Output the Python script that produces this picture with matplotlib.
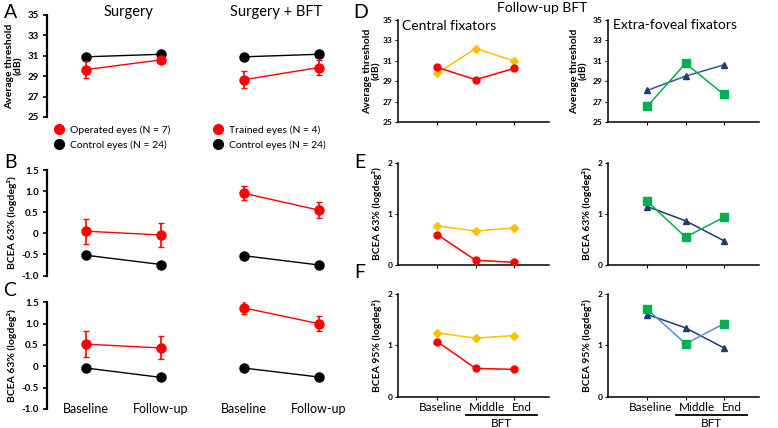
import matplotlib
matplotlib.use('Agg')
import matplotlib.pyplot as plt
import matplotlib.transforms as mtransforms
from matplotlib.lines import Line2D

plt.rcParams['font.family'] = ['Lato', 'DejaVu Sans']

# ---- values ----
visits = ['Baseline', 'Follow-up']
bft_visits = ['Baseline', 'Middle', 'End']

# A - average threshold (dB)
thr_surg_operated = [29.65, 30.6]
thr_surg_operated_err = [0.8, 0.2]
thr_surg_control = [30.9, 31.15]
thr_bft_trained = [28.65, 29.85]
thr_bft_trained_err = [0.85, 0.75]
thr_bft_control = [30.9, 31.15]

# B - BCEA 63%
b63_surg_operated = [0.05, -0.04]
b63_surg_operated_err = [0.3, 0.28]
b63_surg_control = [-0.52, -0.74]
b63_bft_trained = [0.95, 0.55]
b63_bft_trained_err = [0.16, 0.19]
b63_bft_control = [-0.53, -0.75]

# C - BCEA (second measure)
c_surg_operated = [0.52, 0.43]
c_surg_operated_err = [0.3, 0.27]
c_surg_control = [-0.04, -0.26]
c_bft_trained = [1.37, 1.0]
c_bft_trained_err = [0.15, 0.18]
c_bft_control = [-0.04, -0.25]

# D-F - follow-up BFT, central fixators (red, yellow) / extra-foveal (navy, green)
d_central_red = [30.35, 29.15, 30.25]
d_central_yellow = [29.8, 32.2, 31.0]
d_extra_navy = [28.1, 29.5, 30.6]
d_extra_green = [26.55, 30.75, 27.7]

e_central_red = [0.59, 0.085, 0.045]
e_central_yellow = [0.76, 0.66, 0.72]
e_extra_navy = [1.14, 0.86, 0.47]
e_extra_green = [1.24, 0.54, 0.93]

f_central_red = [1.07, 0.55, 0.53]
f_central_yellow = [1.24, 1.14, 1.19]
f_extra_navy = [1.6, 1.34, 0.95]
f_extra_green = [1.7, 1.03, 1.42]

RED = '#FF0000'
YEL = '#FFC000'
NAVY = '#1F3A78'
GREEN = '#00B050'

W, H = 778, 428
fig = plt.figure(figsize=(W / 100, H / 100), dpi=100)


def box(x0, y0, x1, y1):
    return fig.add_axes([x0 / W, 1 - y1 / H, (x1 - x0) / W, (y1 - y0) / H])


# ---------------- left block (A, B, C) ----------------
xs_surg = [0, 1]
xs_bft = [2.1, 3.1]


def left_panel(ax, surg_op, surg_op_err, surg_ctl, bft_tr, bft_tr_err, bft_ctl, ylim, ticks, ticklabels):
    for xs, ctl in ((xs_surg, surg_ctl), (xs_bft, bft_ctl)):
        ax.plot(xs, ctl, color='black', lw=1, marker='o', ms=6.5, zorder=3)
    for xs, val, err in ((xs_surg, surg_op, surg_op_err), (xs_bft, bft_tr, bft_tr_err)):
        ax.errorbar(xs, val, yerr=err, color=RED, lw=1, marker='o', ms=6.5,
                    elinewidth=1.2, capsize=2, capthick=1, zorder=4)
    ax.set_xlim(-0.52, 3.65)
    ax.set_ylim(*ylim)
    ax.set_yticks(ticks)
    ax.set_yticklabels(ticklabels, fontsize=7, fontweight='bold')
    ax.set_xticks([])
    for s in ('top', 'right', 'bottom'):
        ax.spines[s].set_visible(False)
    ax.spines['left'].set_linewidth(1.6)
    ax.tick_params(axis='y', length=3, width=1.2, pad=3)
    ax.patch.set_visible(False)


axA = box(47, 15, 360, 117)
left_panel(axA, thr_surg_operated, thr_surg_operated_err, thr_surg_control,
           thr_bft_trained, thr_bft_trained_err, thr_bft_control,
           (25, 35), [25, 27, 29, 31, 33, 35], ['25', '27', '29', '31', '33', '35'])
axA.set_ylabel('Average threshold\n(dB)', fontsize=7.5, fontweight='bold', linespacing=1.0)
axA.yaxis.set_label_coords(-0.075, 0.5)

bce_ticks = [-1.0, -0.5, 0, 0.5, 1.0, 1.5]
bce_labels = ['-1.0', '-0.5', '0', '0.5', '1.0', '1.5']

axB = box(47, 170, 360, 275.5)
left_panel(axB, b63_surg_operated, b63_surg_operated_err, b63_surg_control,
           b63_bft_trained, b63_bft_trained_err, b63_bft_control,
           (-1.0, 1.5), bce_ticks, bce_labels)
axB.set_ylabel('BCEA 63% (logdeg²)', fontsize=7.5, fontweight='bold')
axB.yaxis.set_label_coords(-0.097, 0.5)

axC = box(47, 302.3, 360, 409)
left_panel(axC, c_surg_operated, c_surg_operated_err, c_surg_control,
           c_bft_trained, c_bft_trained_err, c_bft_control,
           (-1.0, 1.5), bce_ticks, bce_labels)
axC.set_ylabel('BCEA 63% (logdeg²)', fontsize=7.5, fontweight='bold')
axC.yaxis.set_label_coords(-0.097, 0.5)
for x, lab in zip(xs_surg + xs_bft, visits + visits):
    axC.text(x, -1.0, lab, ha='center', va='center', fontsize=9, clip_on=False)

fig.text(129 / W, 1 - 12 / H, 'Surgery', ha='center', va='center', fontsize=10.5)
fig.text(276 / W, 1 - 12 / H, 'Surgery + BFT', ha='center', va='center', fontsize=10.5)

# legends
h_op = Line2D([], [], color=RED, marker='o', ls='none', ms=7)
h_ct = Line2D([], [], color='black', marker='o', ls='none', ms=7)
fig.legend([h_op, h_ct], ['Operated eyes (N = 7)', 'Control eyes (N = 24)'],
           loc='upper left', bbox_to_anchor=(54 / W, 1 - 125 / H), frameon=False,
           fontsize=7.5, handlelength=0.9, handletextpad=0.6, labelspacing=0.55,
           borderpad=0, borderaxespad=0)
fig.legend([h_op, h_ct], ['Trained eyes (N = 4)', 'Control eyes (N = 24)'],
           loc='upper left', bbox_to_anchor=(213 / W, 1 - 125 / H), frameon=False,
           fontsize=7.5, handlelength=0.9, handletextpad=0.6, labelspacing=0.55,
           borderpad=0, borderaxespad=0)

# ---------------- right block (D, E, F) ----------------
xs3 = [0, 1, 2]


def right_panel(ax, ylim, ticks, series):
    for vals, line_c, mk_c, mk, ms in series:
        ax.plot(xs3, vals, color=line_c, lw=1.1, marker=mk, ms=ms,
                markerfacecolor=mk_c, markeredgecolor=mk_c, zorder=3)
    ax.set_xlim(-1.03, 2.92)
    ax.set_ylim(*ylim)
    ax.set_yticks(ticks)
    ax.set_yticklabels([str(t) for t in ticks], fontsize=6, fontweight='bold')
    ax.set_xticks(xs3)
    ax.set_xticklabels([])
    for s in ('top', 'right'):
        ax.spines[s].set_visible(False)
    ax.spines['left'].set_linewidth(1.1)
    ax.spines['bottom'].set_linewidth(1.1)
    ax.tick_params(length=2.5, width=0.8, pad=1.5)
    ax.patch.set_visible(False)


central = lambda red, yel: [(yel, YEL, YEL, 'D', 4.5), (red, RED, RED, 'o', 5)]

axD1 = box(398, 20, 549, 122)
right_panel(axD1, (25, 35), [25, 27, 29, 31, 33, 35], central(d_central_red, d_central_yellow))
axD2 = box(608, 20, 759, 122)
right_panel(axD2, (25, 35), [25, 27, 29, 31, 33, 35],
            [(d_extra_navy, '#2E5A9E', NAVY, '^', 5), (d_extra_green, GREEN, GREEN, 's', 5.5)])
for ax in (axD1, axD2):
    ax.set_ylabel('Average threshold\n(dB)', fontsize=7.5, fontweight='bold', linespacing=1.0)
axD1.yaxis.set_label_coords(-0.11, 0.5)
axD2.yaxis.set_label_coords(-0.13, 0.5)

axE1 = box(398, 162.8, 549, 264.6)
right_panel(axE1, (0, 2), [0, 1, 2], central(e_central_red, e_central_yellow))
axE2 = box(608, 162.8, 759, 264.6)
right_panel(axE2, (0, 2), [0, 1, 2],
            [(e_extra_navy, '#1F3A78', NAVY, '^', 5), (e_extra_green, GREEN, GREEN, 's', 5.5)])
for ax in (axE1, axE2):
    ax.set_ylabel('BCEA 63% (logdeg²)', fontsize=7.5, fontweight='bold')
    ax.yaxis.set_label_coords(-0.105, 0.5)

axF1 = box(398, 294, 549, 396.6)
right_panel(axF1, (0, 2), [0, 1, 2], central(f_central_red, f_central_yellow))
axF2 = box(608, 294, 759, 396.6)
right_panel(axF2, (0, 2), [0, 1, 2],
            [(f_extra_navy, '#1F3A78', NAVY, '^', 5), (f_extra_green, '#5B8FD9', GREEN, 's', 5.5)])
label_shift_px = [3, 11, 8]
for ax in (axF1, axF2):
    ax.set_ylabel('BCEA 95% (logdeg²)', fontsize=7.5, fontweight='bold')
    ax.yaxis.set_label_coords(-0.105, 0.5)
    ax.set_xticklabels(bft_visits, fontsize=8.5)
    for lbl, dx in zip(ax.get_xticklabels(), label_shift_px):
        lbl.set_transform(lbl.get_transform() +
                          mtransforms.ScaledTranslation(dx / 100, 0, fig.dpi_scale_trans))
    trans = mtransforms.blended_transform_factory(ax.transData, ax.transAxes)
    ax.plot([0.75, 2.6], [-0.18, -0.18], color='black', lw=1.3, transform=trans, clip_on=False)
    ax.text(1.68, -0.26, 'BFT', ha='center', va='center', fontsize=8.5, transform=trans)

fig.text(542 / W, 1 - 8 / H, 'Follow-up BFT', ha='center', va='center', fontsize=10)
fig.text(402 / W, 1 - 26 / H, 'Central fixators', ha='left', va='center', fontsize=10)
fig.text(613 / W, 1 - 25 / H, 'Extra-foveal fixators', ha='left', va='center', fontsize=10)

# panel letters
for lab, x, y in (('A', 11, 12), ('B', 10, 163), ('C', 10, 291),
                  ('D', 361, 12), ('E', 360, 162), ('F', 360, 273)):
    fig.text(x / W, 1 - y / H, lab, ha='center', va='center', fontsize=14)

fig.savefig('out.png', dpi=100)
